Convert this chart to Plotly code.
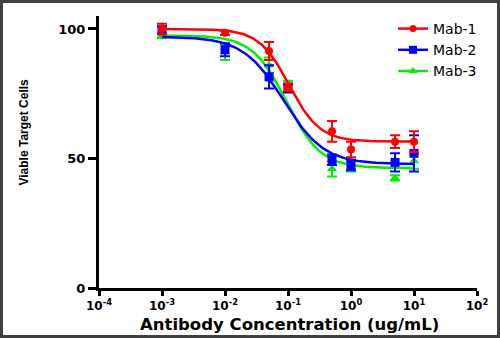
import numpy as np
import plotly.graph_objects as go

# Antibody concentration (ug/mL) and viable target cells per antibody
conc = [0.001, 0.01, 0.05, 0.1, 0.5, 1, 5, 10]

mab1 = [100, 98.5, 91.5, 77.5, 60.5, 53.5, 56.5, 56.5]
mab1_err = [2, 0.8, 3.5, 1.5, 4, 3, 2.5, 4]

mab2 = [99.5, 92, 81.5, 77, 49.5, 47.5, 48.5, 52]
mab2_err = [1.5, 2.5, 4.5, 1.5, 2, 2, 3.5, 7]

mab3 = [97.5, 91, 86, 78, 46, 47, 42.5, 49]
mab3_err = [1, 3, 3, 2, 3, 2, 1, 3]

# Four-parameter logistic fit parameters: top, bottom, EC50, Hill slope
fit1 = [100, 56.5, 0.105, 1.8]
fit2 = [97, 47.8, 0.085, 1.35]
fit3 = [97.5, 46.3, 0.095, 1.6]

names = ["Mab-1", "Mab-2", "Mab-3"]
colors = ["#ff0000", "#0000ff", "#00ee00"]
symbols = ["circle", "square", "triangle-up"]
sizes = [8, 9, 9]

x_ticks = [1e-4, 1e-3, 1e-2, 1e-1, 1e0, 1e1, 1e2]
x_tick_text = ["<b>10<sup>-4</sup></b>", "<b>10<sup>-3</sup></b>", "<b>10<sup>-2</sup></b>",
               "<b>10<sup>-1</sup></b>", "<b>10<sup>0</sup></b>", "<b>10<sup>1</sup></b>",
               "<b>10<sup>2</sup></b>"]
y_ticks = [0, 50, 100]


def logistic(x, p):
    top, bottom, ec50, hill = p
    return bottom + (top - bottom) / (1 + (x / ec50) ** hill)


xfit = np.logspace(np.log10(conc[0]), np.log10(conc[-1]), 200)

series = [(mab1, mab1_err, fit1), (mab2, mab2_err, fit2), (mab3, mab3_err, fit3)]

fig = go.Figure()

# legend entries in reading order
for i in range(3):
    fig.add_trace(go.Scatter(
        x=[None], y=[None], mode="lines+markers", name=names[i],
        line=dict(color=colors[i], width=2.5),
        marker=dict(symbol=symbols[i], size=sizes[i] - 1, color=colors[i]),
    ))

# data drawn with Mab-1 on top
for i in [2, 1, 0]:
    vals, errs, fit = series[i]
    fig.add_trace(go.Scatter(
        x=xfit, y=logistic(xfit, fit), mode="lines", showlegend=False,
        line=dict(color=colors[i], width=2.5), hoverinfo="skip",
    ))
    fig.add_trace(go.Scatter(
        x=conc, y=vals, mode="markers", showlegend=False,
        marker=dict(symbol=symbols[i], size=sizes[i], color=colors[i]),
        error_y=dict(type="data", array=errs, color=colors[i], thickness=2, width=5),
    ))

L, R, T, B = 99, 23, 16, 50
W, H = 500, 338
pw, ph = W - L - R, H - T - B

fig.update_layout(
    width=W, height=H,
    margin=dict(l=L, r=R, t=T, b=B),
    paper_bgcolor="white", plot_bgcolor="white",
    font=dict(family="DejaVu Sans, Arial, sans-serif", color="black"),
    legend=dict(
        x=(393 - L) / pw, y=(H - B - 13) / ph, xanchor="left", yanchor="top",
        font=dict(size=14, family="DejaVu Sans, Arial, sans-serif"),
        bgcolor="rgba(0,0,0,0)", itemwidth=30, tracegroupgap=0,
    ),
    xaxis=dict(
        type="log", range=[-4, 2],
        tickvals=x_ticks, ticktext=x_tick_text,
        showline=True, linecolor="black", linewidth=3,
        ticks="outside", ticklen=5, tickwidth=3, tickcolor="black",
        showgrid=False, zeroline=False,
        tickfont=dict(size=12, family="DejaVu Sans, Arial, sans-serif"),
    ),
    yaxis=dict(
        range=[0, 105], tickvals=y_ticks,
        ticktext=["<b>%d</b>" % v for v in y_ticks],
        showline=True, linecolor="black", linewidth=3,
        ticks="outside", ticklen=8, tickwidth=3, tickcolor="black",
        showgrid=False, zeroline=False,
        tickfont=dict(size=13, family="DejaVu Sans, Arial, sans-serif"),
    ),
    annotations=[
        dict(text="<b>Antibody Concentration (ug/mL)</b>", xref="paper", yref="paper",
             x=(289 - L) / pw, y=-(324 - (H - B)) / ph, xanchor="center", yanchor="middle",
             showarrow=False, font=dict(size=16.5, family="DejaVu Sans, Arial, sans-serif")),
        dict(text="<b>Viable Target Cells</b>", xref="paper", yref="paper",
             x=(23 - L) / pw, y=((H - B) - 132.5) / ph, xanchor="center", yanchor="middle",
             textangle=-90, showarrow=False,
             font=dict(size=12, family="Liberation Sans Narrow, Arial Narrow, Liberation Sans, Arial, sans-serif")),
    ],
    shapes=[
        dict(type="rect", xref="paper", yref="paper",
             x0=(1.5 - L) / pw, x1=(W - 1.5 - L) / pw,
             y0=-(H - 1.5 - (H - B)) / ph, y1=((H - B) - 1.5) / ph,
             line=dict(color="#404040", width=3), fillcolor="rgba(0,0,0,0)", layer="below"),
    ],
)

fig.write_html("out.html")
